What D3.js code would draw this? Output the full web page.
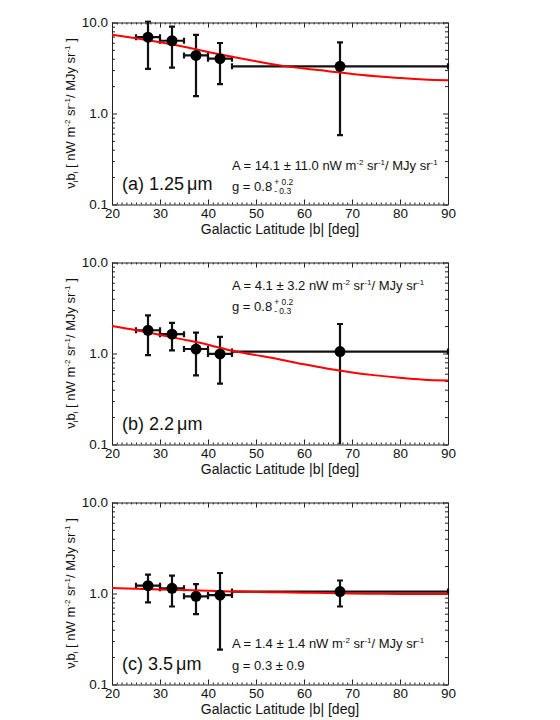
<!DOCTYPE html>
<html>
<head>
<meta charset="utf-8">
<script src="https://cdn.jsdelivr.net/npm/d3@7"></script>
<style>
  body { margin: 0; background: #fff; }
  svg text { font-family: "Liberation Sans", Arial, Helvetica, sans-serif; fill: #111; }
  .axis path, .axis line { stroke: #222; stroke-width: 1; }
</style>
</head>
<body>
<script>
// bins in galactic latitude |b|
var binCenters = [27.5, 32.5, 37.5, 42.5, 67.5];
var binLow     = [25, 30, 35, 40, 45];
var binHigh    = [30, 35, 40, 45, 90];

// nu b_i values and error bar ends, one array per band
var valA = [6.9, 6.3, 4.35, 4.0, 3.3];
var errHiA = [10.3, 9.0, 7.3, 5.95, 6.05];
var errLoA = [3.1, 3.2, 1.55, 2.1, 0.58];

var valB = [1.8, 1.63, 1.12, 0.99, 1.05];
var errHiB = [2.63, 2.17, 1.70, 1.52, 2.11];
var errLoB = [0.96, 1.08, 0.574, 0.466, 0.05];

var valC = [1.22, 1.14, 0.93, 0.96, 1.05];
var errHiC = [1.61, 1.57, 1.27, 1.68, 1.39];
var errLoC = [0.80, 0.72, 0.594, 0.242, 0.72];

// red model curves
var curveX = [20, 25, 30, 35, 40, 45, 50, 55, 60, 65, 70, 75, 80, 85, 90];
var curveA = [7.35, 6.7, 6.05, 5.4, 4.75, 4.2, 3.75, 3.38, 3.12, 2.92, 2.72, 2.57, 2.45, 2.37, 2.32];
var curveB = [2.0, 1.8, 1.6, 1.42, 1.25, 1.07, 0.96, 0.86, 0.76, 0.68, 0.62, 0.575, 0.54, 0.515, 0.506];
var curveC = [1.15, 1.13, 1.11, 1.09, 1.07, 1.055, 1.04, 1.03, 1.02, 1.01, 1.0, 0.995, 0.99, 0.99, 0.99];

var xTicks = [20, 30, 40, 50, 60, 70, 80, 90];
var yTicks = [0.1, 1, 10];

var panels = [
  { label: "(a) 1.25", val: valA, hi: errHiA, lo: errLoA, curve: curveA,
    A: "14.1 \u00b1 11.0", g: "asym", textY: [170, 191] },
  { label: "(b) 2.2", val: valB, hi: errHiB, lo: errLoB, curve: curveB,
    A: "4.1 \u00b1 3.2", g: "asym", textY: [50, 71] },
  { label: "(c) 3.5", val: valC, hi: errHiC, lo: errLoC, curve: curveC,
    A: "1.4 \u00b1 1.4", g: "sym", textY: [168, 190] }
];

var W = 560, H = 720;
var plotLeft = 112, plotRight = 448, plotTop = 22.5, plotBottom = 204.5, step = 240;

var svg = d3.select("body").append("svg")
  .attr("width", W).attr("height", H);

var x = d3.scaleLinear().domain([20, 90]).range([plotLeft, plotRight]);
var y = d3.scaleLog().domain([0.1, 10]).range([plotBottom, plotTop]);

var minorX = d3.range(20, 91, 1).filter(function (d) { return d % 10 !== 0; });
var minorY = [];
[0.1, 1].forEach(function (dec) {
  for (var k = 2; k <= 9; k++) minorY.push(dec * k);
});

panels.forEach(function (p, i) {
  var g = svg.append("g").attr("transform", "translate(0," + (i * step) + ")");

  // axes: bottom with labels, top without, ticks pointing inwards
  g.append("g").attr("class", "axis")
    .attr("transform", "translate(0," + plotBottom + ")")
    .call(d3.axisBottom(x).tickValues(xTicks).tickSizeInner(-5).tickSizeOuter(0)
      .tickPadding(4).tickFormat(d3.format("d")))
    .call(function (s) { s.selectAll("text").attr("font-size", 13.5).attr("fill", "#111"); s.attr("font-family", null); });
  g.append("g").attr("class", "axis")
    .attr("transform", "translate(0," + plotBottom + ")")
    .call(d3.axisBottom(x).tickValues(minorX).tickSize(-2).tickFormat(""))
    .select(".domain").remove();
  g.append("g").attr("class", "axis")
    .attr("transform", "translate(0," + plotTop + ")")
    .call(d3.axisTop(x).tickValues(xTicks).tickSizeInner(-5).tickSizeOuter(0).tickFormat(""));
  g.append("g").attr("class", "axis")
    .attr("transform", "translate(0," + plotTop + ")")
    .call(d3.axisTop(x).tickValues(minorX).tickSize(-2).tickFormat(""))
    .select(".domain").remove();

  g.append("g").attr("class", "axis")
    .attr("transform", "translate(" + plotLeft + ",0)")
    .call(d3.axisLeft(y).tickValues(yTicks).tickSizeInner(-5).tickSizeOuter(0)
      .tickPadding(4).tickFormat(d3.format(".1f")))
    .call(function (s) { s.selectAll("text").attr("font-size", 13.5).attr("fill", "#111"); s.attr("font-family", null); });
  g.append("g").attr("class", "axis")
    .attr("transform", "translate(" + plotLeft + ",0)")
    .call(d3.axisLeft(y).tickValues(minorY).tickSize(-3).tickFormat(""))
    .select(".domain").remove();
  g.append("g").attr("class", "axis")
    .attr("transform", "translate(" + plotRight + ",0)")
    .call(d3.axisRight(y).tickValues(yTicks).tickSizeInner(-5).tickSizeOuter(0).tickFormat(""));
  g.append("g").attr("class", "axis")
    .attr("transform", "translate(" + plotRight + ",0)")
    .call(d3.axisRight(y).tickValues(minorY).tickSize(-3).tickFormat(""))
    .select(".domain").remove();

  // x title
  g.append("text")
    .attr("x", (plotLeft + plotRight) / 2).attr("y", 233.5)
    .attr("text-anchor", "middle").attr("font-size", 14)
    .text("Galactic Latitude |b| [deg]");

  // y title
  var yt = g.append("text")
    .attr("transform", "translate(75," + ((plotTop + plotBottom) / 2) + ") rotate(-90)")
    .attr("text-anchor", "middle").attr("font-size", 13);
  yt.append("tspan").text("\u03bd");
  yt.append("tspan").attr("font-size", 8).attr("dy", 3).text("i");
  yt.append("tspan").attr("dy", -3).text("b");
  yt.append("tspan").attr("font-size", 8).attr("dy", 3).text("i");
  yt.append("tspan").attr("dy", -3).text("  [ nW m");
  yt.append("tspan").attr("font-size", 8).attr("dy", -5).text("-2");
  yt.append("tspan").attr("dy", 5).text(" sr");
  yt.append("tspan").attr("font-size", 8).attr("dy", -5).text("-1");
  yt.append("tspan").attr("dy", 5).text("/ MJy sr");
  yt.append("tspan").attr("font-size", 8).attr("dy", -5).text("-1");
  yt.append("tspan").attr("dy", 5).text(" ]");

  // clip for the data
  var clipId = "clip" + i;
  g.append("clipPath").attr("id", clipId)
    .append("rect").attr("x", plotLeft - 8).attr("y", plotTop - 2)
    .attr("width", plotRight - plotLeft + 16).attr("height", plotBottom - plotTop + 2);

  var data = binCenters.map(function (c, j) {
    return { x: c, x0: binLow[j], x1: binHigh[j], v: p.val[j], hi: p.hi[j], lo: p.lo[j] };
  });

  var d = g.append("g").attr("clip-path", "url(#" + clipId + ")");

  // error bars
  var cap = 3;
  data.forEach(function (e) {
    var ylo = Math.max(e.lo, 0.1);
    d.append("line").attr("x1", x(e.x)).attr("x2", x(e.x))
      .attr("y1", y(e.hi)).attr("y2", y(ylo))
      .attr("stroke", "#111").attr("stroke-width", 2.2);
    d.append("line").attr("x1", x(e.x) - cap).attr("x2", x(e.x) + cap)
      .attr("y1", y(e.hi)).attr("y2", y(e.hi))
      .attr("stroke", "#111").attr("stroke-width", 2.2);
    if (e.lo >= 0.1) {
      d.append("line").attr("x1", x(e.x) - cap).attr("x2", x(e.x) + cap)
        .attr("y1", y(e.lo)).attr("y2", y(e.lo))
        .attr("stroke", "#111").attr("stroke-width", 2.2);
    }
    d.append("line").attr("x1", x(e.x0)).attr("x2", x(e.x1))
      .attr("y1", y(e.v)).attr("y2", y(e.v))
      .attr("stroke", "#111").attr("stroke-width", 2.2);
    [e.x0, e.x1].forEach(function (xe) {
      d.append("line").attr("x1", x(xe)).attr("x2", x(xe))
        .attr("y1", y(e.v) - cap).attr("y2", y(e.v) + cap)
        .attr("stroke", "#111").attr("stroke-width", 2.2);
    });
  });

  // model curve
  var line = d3.line()
    .x(function (v, j) { return x(curveX[j]); })
    .y(function (v) { return y(v); })
    .curve(d3.curveMonotoneX);
  d.append("path").datum(p.curve)
    .attr("d", line)
    .attr("fill", "none").attr("stroke", "#f00").attr("stroke-width", 2);

  // points
  d.selectAll("circle").data(data).enter().append("circle")
    .attr("cx", function (e) { return x(e.x); })
    .attr("cy", function (e) { return y(e.v); })
    .attr("r", 5.5).attr("fill", "#000");

  // panel label
  var pl = g.append("text").attr("x", 122).attr("y", 190)
    .attr("font-size", 18);
  pl.append("tspan").text(p.label);
  pl.append("tspan").attr("dx", 3).text("\u03bcm");

  // fit annotation
  var at = g.append("text").attr("x", 232).attr("y", p.textY[0]).attr("font-size", 13);
  at.append("tspan").text("A = " + p.A + " nW m");
  at.append("tspan").attr("font-size", 8).attr("dy", -5).text("-2");
  at.append("tspan").attr("dy", 5).text(" sr");
  at.append("tspan").attr("font-size", 8).attr("dy", -5).text("-1");
  at.append("tspan").attr("dy", 5).text("/ MJy sr");
  at.append("tspan").attr("font-size", 8).attr("dy", -5).text("-1");

  var gt = g.append("text").attr("x", 232).attr("y", p.textY[1]).attr("font-size", 13);
  if (p.g === "asym") {
    gt.text("g = 0.8");
    var gx = 232 + gt.node().getComputedTextLength() + 2;
    g.append("text").attr("x", gx).attr("y", p.textY[1] - 6).attr("font-size", 8.5).text("+ 0.2");
    g.append("text").attr("x", gx).attr("y", p.textY[1] + 3).attr("font-size", 8.5).text("- 0.3");
  } else {
    gt.text("g = 0.3 \u00b1 0.9");
  }
});
</script>
</body>
</html>
